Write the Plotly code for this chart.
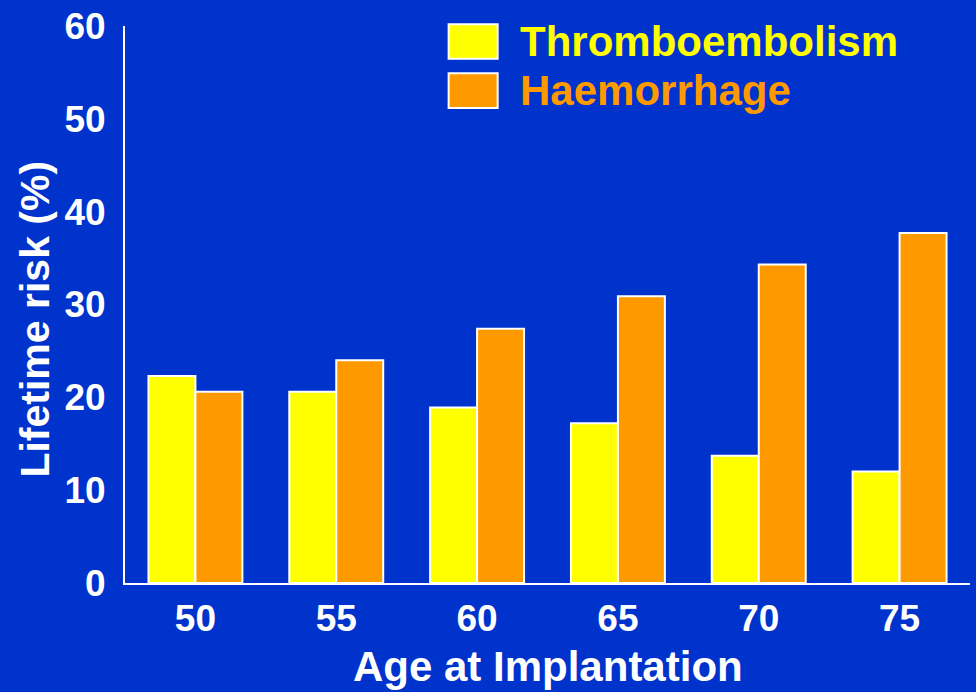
import plotly.graph_objects as go

ages = ['50', '55', '60', '65', '70', '75']
thrombo = [22.3, 20.6, 18.9, 17.2, 13.7, 12.0]
haemo = [20.6, 24.0, 27.4, 30.9, 34.3, 37.7]
names = ['Thromboembolism', 'Haemorrhage']
colors = ['#FFFF00', '#FF9900']
bg = '#0033CC'
font = 'Liberation Sans, Arial, sans-serif'

fig = go.Figure()
for name, vals, c in zip(names, [thrombo, haemo], colors):
    fig.add_trace(go.Bar(x=ages, y=vals, name=name, marker_color=c,
                         marker_line=dict(color='white', width=2)))

# legend drawn by hand so the swatches can be big
for i, (name, c) in enumerate(zip(names, colors)):
    y0 = [0.941, 0.853][i]
    fig.add_shape(type='rect', xref='paper', yref='paper', x0=0.383, x1=0.441,
                  y0=y0, y1=y0 + 0.062, fillcolor=c, line=dict(color='white', width=2))
    fig.add_annotation(xref='paper', yref='paper', x=0.465, y=y0 + 0.031, text=name,
                       showarrow=False, xanchor='left', yanchor='middle',
                       font=dict(family=font, size=42, color=c, weight='bold'))

fig.add_annotation(xref='paper', yref='paper', x=-0.107, y=0.474, text='Lifetime risk (%)',
                   textangle=-90, showarrow=False, xanchor='center', yanchor='middle',
                   font=dict(family=font, size=41, color='white', weight='bold'))
fig.add_annotation(xref='paper', yref='paper', x=0.5, y=-0.15, text='Age at Implantation',
                   showarrow=False, xanchor='center', yanchor='middle',
                   font=dict(family=font, size=42, color='white', weight='bold'))

fig.update_layout(
    width=976, height=692,
    margin=dict(l=125, r=6, t=24, b=109),
    paper_bgcolor=bg, plot_bgcolor=bg,
    barmode='group', bargap=0.333, bargroupgap=0,
    showlegend=False,
    font=dict(family=font, color='white', weight='bold'),
)
fig.update_xaxes(showline=True, linecolor='white', linewidth=2, showgrid=False,
                 ticks='', tickfont=dict(size=37, weight='bold'), ticklabelstandoff=2)
fig.update_yaxes(range=[0, 60], tickvals=[0, 10, 20, 30, 40, 50, 60], showline=True,
                 linecolor='white', linewidth=2, showgrid=False, zeroline=False, ticks='',
                 tickfont=dict(size=37, weight='bold'), ticklabelstandoff=10)

fig.write_html('out.html', config={'displayModeBar': False},
               post_script="document.body.style.margin='0';")
